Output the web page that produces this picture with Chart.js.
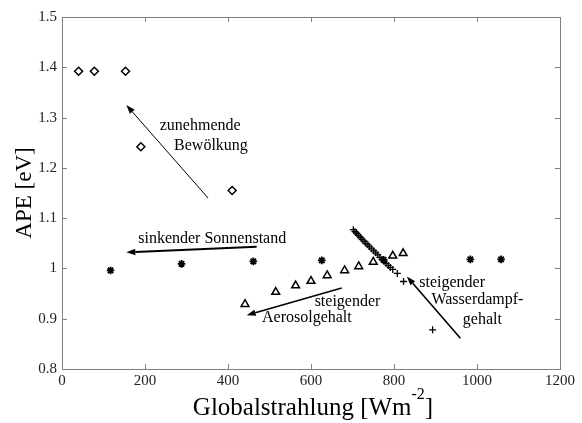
<!DOCTYPE html>
<html>
<head>
<meta charset="utf-8">
<script src="https://cdn.jsdelivr.net/npm/chart.js@4"></script>
<style>
  html, body { margin: 0; padding: 0; background: #fff; }
  #wrap { width: 582px; height: 423px; }
</style>
</head>
<body>
<div id="wrap"><canvas id="myChart" width="582" height="423"></canvas></div>
<script>
// data
const cloudX = [40, 78, 153, 190, 410];
const cloudY = [1.392, 1.392, 1.392, 1.242, 1.155];

const sunX = [117, 288, 461, 626, 775, 984, 1058];
const sunY = [0.996, 1.009, 1.014, 1.016, 1.017, 1.018, 1.018];

const aerosolX = [441, 515, 563, 600, 639, 681, 715, 750, 797, 822];
const aerosolY = [0.929, 0.953, 0.966, 0.975, 0.986, 0.996, 1.004, 1.013, 1.025, 1.030];

const waterX = [702, 706, 710, 714, 719, 723, 728, 732, 737, 741, 746, 751, 756, 761, 766, 771, 776, 781, 786, 791, 797, 808, 823, 893];
const waterY = [1.077, 1.073, 1.070, 1.066, 1.062, 1.058, 1.054, 1.050, 1.047, 1.043, 1.039, 1.035, 1.031, 1.027, 1.022, 1.018, 1.014, 1.010, 1.006, 1.002, 0.998, 0.990, 0.974, 0.878];

const xTicks = [0, 200, 400, 600, 800, 1000, 1200];
const yTicks = [0.8, 0.9, 1.0, 1.1, 1.2, 1.3, 1.4, 1.5];

// arrows: [x tail, y tail, x head, y head]
const arrows = [
  [352, 1.140, 155, 1.325],
  [469, 1.043, 155, 1.032],
  [674, 0.961, 445, 0.907],
  [960, 0.861, 831, 0.984]
];
const arrowWidths = [1, 2, 1.6, 1.6];

// annotation labels: [text, x, y]
const notes = [
  ['zunehmende', 333, 1.284],
  ['Bewölkung', 359, 1.244],
  ['sinkender Sonnenstand', 362, 1.058],
  ['steigender', 688, 0.934],
  ['Aerosolgehalt', 590, 0.901],
  ['steigender', 940, 0.972],
  ['Wasserdampf-', 1001, 0.937],
  ['gehalt', 1013, 0.898]
];

const SERIF = '"Liberation Serif", "DejaVu Serif", serif';
const GREY = '#7f7f7f';

function pts(xs, ys) {
  return xs.map((x, i) => ({ x: x, y: ys[i] }));
}

const decor = {
  id: 'decor',
  afterDraw(chart) {
    const ctx = chart.ctx;
    const a = chart.chartArea;
    const xs = chart.scales.x, ys = chart.scales.y;
    ctx.save();

    // box + inward ticks
    ctx.strokeStyle = GREY;
    ctx.lineWidth = 1;
    ctx.strokeRect(a.left + 0.5, a.top + 0.5, a.right - a.left, a.bottom - a.top);
    ctx.beginPath();
    xTicks.forEach(v => {
      const px = Math.round(xs.getPixelForValue(v)) + 0.5;
      ctx.moveTo(px, a.bottom); ctx.lineTo(px, a.bottom - 5);
      ctx.moveTo(px, a.top); ctx.lineTo(px, a.top + 5);
    });
    yTicks.forEach(v => {
      const py = Math.round(ys.getPixelForValue(v)) + 0.5;
      ctx.moveTo(a.left, py); ctx.lineTo(a.left + 5, py);
      ctx.moveTo(a.right, py); ctx.lineTo(a.right - 5, py);
    });
    ctx.stroke();

    // arrows
    ctx.strokeStyle = '#000';
    ctx.fillStyle = '#000';
    arrows.forEach((r, i) => {
      const x0 = xs.getPixelForValue(r[0]), y0 = ys.getPixelForValue(r[1]);
      const x1 = xs.getPixelForValue(r[2]), y1 = ys.getPixelForValue(r[3]);
      const ang = Math.atan2(y1 - y0, x1 - x0);
      const len = 9, half = 3.2;
      const bx = x1 - len * Math.cos(ang), by = y1 - len * Math.sin(ang);
      ctx.lineWidth = arrowWidths[i];
      ctx.beginPath();
      ctx.moveTo(x0, y0); ctx.lineTo(bx, by);
      ctx.stroke();
      ctx.beginPath();
      ctx.moveTo(x1, y1);
      ctx.lineTo(bx + half * Math.sin(ang), by - half * Math.cos(ang));
      ctx.lineTo(bx - half * Math.sin(ang), by + half * Math.cos(ang));
      ctx.closePath();
      ctx.fill();
    });

    // annotation text
    ctx.font = '16px ' + SERIF;
    ctx.textAlign = 'center';
    ctx.textBaseline = 'middle';
    notes.forEach(n => {
      ctx.fillText(n[0], xs.getPixelForValue(n[1]), ys.getPixelForValue(n[2]));
    });

    // x title with superscript
    const cx = (a.left + a.right) / 2 + 2;
    const base = 415;
    const big = '25px ' + SERIF, small = '16px ' + SERIF;
    ctx.textAlign = 'left';
    ctx.textBaseline = 'alphabetic';
    ctx.font = big;
    const p1 = 'Globalstrahlung [Wm', p3 = ']';
    const w1 = ctx.measureText(p1).width, w3 = ctx.measureText(p3).width;
    ctx.font = small;
    const w2 = ctx.measureText('-2').width;
    let sx = cx - (w1 + w2 + w3) / 2;
    ctx.font = big;
    ctx.fillText(p1, sx, base);
    ctx.font = small;
    ctx.fillText('-2', sx + w1, base - 16);
    ctx.font = big;
    ctx.fillText(p3, sx + w1 + w2, base);

    // y title
    ctx.translate(25, (a.top + a.bottom) / 2);
    ctx.rotate(-Math.PI / 2);
    ctx.textAlign = 'center';
    ctx.textBaseline = 'middle';
    ctx.font = '23px ' + SERIF;
    ctx.fillText('APE [eV]', 0, 0);
    ctx.restore();
  }
};

const ctx = document.getElementById('myChart').getContext('2d');
const myChart = new Chart(ctx, {
  type: 'scatter',
  data: {
    datasets: [
      { label: 'Bewölkung', data: pts(cloudX, cloudY), pointStyle: 'rectRot', radius: 4,
        borderColor: '#000', backgroundColor: '#fff', borderWidth: 1.5 },
      { label: 'Sonnenstand', data: pts(sunX, sunY), pointStyle: 'star', radius: 3.8,
        borderColor: '#000', backgroundColor: '#000', borderWidth: 1.8 },
      { label: 'Aerosol', data: pts(aerosolX, aerosolY), pointStyle: 'triangle', radius: 4.5,
        borderColor: '#000', backgroundColor: '#fff', borderWidth: 1.5 },
      { label: 'Wasserdampf', data: pts(waterX, waterY), pointStyle: 'cross', radius: 3.5,
        borderColor: '#000', backgroundColor: '#000', borderWidth: 1.3 }
    ]
  },
  options: {
    responsive: false,
    animation: false,
    events: [],
    layout: { padding: { left: 0, right: 22, top: 17, bottom: 0 } },
    plugins: { legend: { display: false }, tooltip: { enabled: false } },
    scales: {
      x: {
        type: 'linear', min: 0, max: 1200,
        afterBuildTicks: s => { s.ticks = xTicks.map(v => ({ value: v })); },
        afterFit: s => { s.height = 54; },
        grid: { display: false, drawTicks: false },
        border: { display: false },
        ticks: { color: '#222', padding: 3, font: { family: SERIF, size: 15 }, maxRotation: 0,
          callback: v => String(v) }
      },
      y: {
        type: 'linear', min: 0.8, max: 1.5,
        afterBuildTicks: s => { s.ticks = yTicks.map(v => ({ value: v })); },
        afterFit: s => { s.width = 62; },
        grid: { display: false, drawTicks: false },
        border: { display: false },
        ticks: { color: '#222', padding: 5, font: { family: SERIF, size: 15 },
          callback: v => String(Math.round(v * 10) / 10) }
      }
    }
  },
  plugins: [decor]
});
</script>
</body>
</html>
